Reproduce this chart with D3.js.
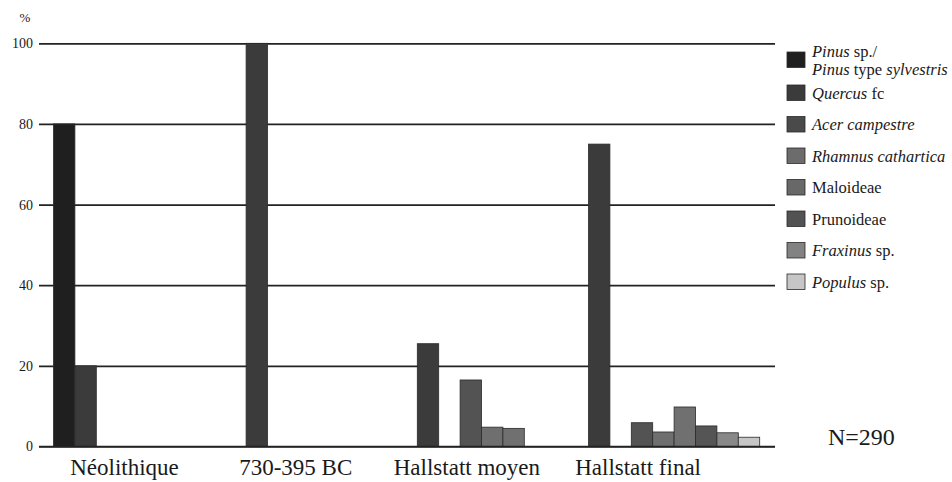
<!DOCTYPE html>
<html>
<head>
<meta charset="utf-8">
<script src="https://cdn.jsdelivr.net/npm/d3@7"></script>
<style>
  body { margin: 0; background: #fff; }
</style>
</head>
<body>
<div id="chart"></div>
<script>
// periods and taxa
var groups = ["Néolithique", "730-395 BC", "Hallstatt moyen", "Hallstatt final"];
var species = ["Pinus", "Quercus", "Acer", "Rhamnus", "Maloideae", "Prunoideae", "Fraxinus", "Populus"];

// % per period, one array per taxon
var pinus      = [80, 0, 0, 0];
var quercus    = [20, 100, 25.5, 75];
var acer       = [0, 0, 16.5, 5.9];
var rhamnus    = [0, 0, 4.8, 3.6];
var maloideae  = [0, 0, 4.5, 9.8];
var prunoideae = [0, 0, 0, 5.1];
var fraxinus   = [0, 0, 0, 3.4];
var populus    = [0, 0, 0, 2.3];

var yTicks = [0, 20, 40, 60, 80, 100];

// legend text, *...* = italic
var legendLabels = [
  ["*Pinus* sp./", "*Pinus* type *sylvestris*"],
  ["*Quercus* fc"],
  ["*Acer campestre*"],
  ["*Rhamnus cathartica*"],
  ["Maloideae"],
  ["Prunoideae"],
  ["*Fraxinus* sp."],
  ["*Populus* sp."]
];
var nLabel = "N=290";

var values = [pinus, quercus, acer, rhamnus, maloideae, prunoideae, fraxinus, populus];
var barColors    = ["#1f1f1f", "#3b3b3b", "#535353", "#6f6f6f", "#707070", "#555555", "#888888", "#c6c6c6"];
var legendColors = ["#1f1f1f", "#3b3b3b", "#4a4a4a", "#6c6c6c", "#686868", "#525252", "#828282", "#c6c6c6"];

var FONT = "'Liberation Serif'";
var W = 952, H = 482;

var svg = d3.select("#chart")
  .append("svg")
    .attr("width", W)
    .attr("height", H);

var y = d3.scaleLinear()
  .domain([0, 100])
  .range([446.5, 43.3]);

// group start positions
var x0 = d3.scalePoint()
  .domain(groups)
  .range([53.5, 53.5 + 3 * 171.2]);

// slots inside a group (empty slot after Quercus)
var slots = ["Pinus", "Quercus", "_gap"].concat(species.slice(2));
var x1 = d3.scaleBand()
  .domain(slots)
  .range([0, slots.length * 21.4]);

// gridlines / axis
var gx = 39, gRight = 775;
svg.append("g")
  .attr("transform", "translate(" + gx + ",0)")
  .call(d3.axisLeft(y).tickValues(yTicks).tickSize(-(gRight - gx)).tickPadding(6))
  .call(function(g) { g.select(".domain").remove(); })
  .call(function(g) {
    g.attr("font-family", FONT).attr("font-size", 14);
    g.selectAll(".tick line").attr("stroke", "#222").attr("stroke-width", 1.7);
    g.selectAll(".tick text")
      .attr("font-family", FONT)
      .attr("font-size", 14)
      .attr("fill", "#1a1a1a");
  });

svg.append("text")
  .attr("x", 25)
  .attr("y", 22)
  .attr("text-anchor", "middle")
  .attr("font-family", FONT)
  .attr("font-size", 13)
  .attr("fill", "#1a1a1a")
  .text("%");

// bars
var bars = [];
species.forEach(function(s, si) {
  groups.forEach(function(g, gi) {
    if (values[si][gi] > 0) bars.push({ group: g, sp: s, idx: si, v: values[si][gi] });
  });
});

svg.append("g").selectAll("rect")
  .data(bars)
  .enter().append("rect")
    .attr("x", function(d) { return x0(d.group) + x1(d.sp); })
    .attr("width", x1.bandwidth())
    .attr("y", function(d) { return y(d.v); })
    .attr("height", function(d) { return y(0) - y(d.v); })
    .attr("fill", function(d) { return barColors[d.idx]; })
    .attr("stroke", "#2a2a2a")
    .attr("stroke-width", 0.8);

// baseline over the bar bottoms
svg.append("line")
  .attr("x1", gx).attr("x2", gRight)
  .attr("y1", y(0)).attr("y2", y(0))
  .attr("stroke", "#222")
  .attr("stroke-width", 1.7);

// period labels
svg.append("g").selectAll("text")
  .data(groups)
  .enter().append("text")
    .attr("x", function(d) { return x0(d) + 71; })
    .attr("y", 475)
    .attr("text-anchor", "middle")
    .attr("font-family", FONT)
    .attr("font-size", 23)
    .attr("fill", "#1a1a1a")
    .text(function(d) { return d; });

svg.append("text")
  .attr("x", 828)
  .attr("y", 445)
  .attr("font-family", FONT)
  .attr("font-size", 24)
  .attr("fill", "#1a1a1a")
  .text(nLabel);

// legend
function addRich(textSel, str) {
  str.split("*").forEach(function(part, i) {
    if (part === "") return;
    textSel.append("tspan")
      .attr("font-family", FONT)
      .attr("font-style", i % 2 === 1 ? "italic" : "normal")
      .text(part);
  });
}

var legend = svg.append("g");
legendLabels.forEach(function(lines, i) {
  var top = i === 0 ? 52 : 85 + (i - 1) * 31.5;
  legend.append("rect")
    .attr("x", 787)
    .attr("y", top)
    .attr("width", 18)
    .attr("height", 15.5)
    .attr("fill", legendColors[i])
    .attr("stroke", "#2a2a2a")
    .attr("stroke-width", 0.8);
  lines.forEach(function(line, li) {
    var t = legend.append("text")
      .attr("x", 812)
      .attr("y", lines.length > 1 ? 57 + li * 18 : top + 13.5)
      .attr("font-family", FONT)
      .attr("font-size", 16.5)
      .attr("fill", "#1a1a1a");
    addRich(t, line);
  });
});
</script>
</body>
</html>
